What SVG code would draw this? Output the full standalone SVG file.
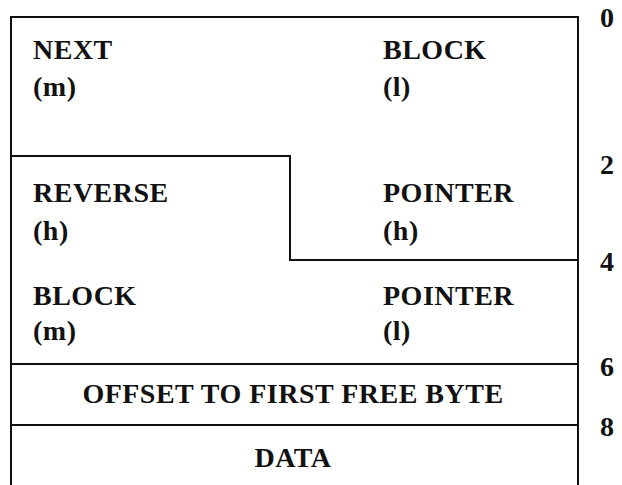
<svg xmlns="http://www.w3.org/2000/svg" width="622" height="485" viewBox="0 0 622 485">
  <style>
    .t { font-family: "Liberation Serif", "Times New Roman", serif; font-weight: bold; font-size: 28px; letter-spacing: 0.5px; fill: #111; }
    .c { text-anchor: middle; }
    .ln { fill: none; stroke: #111; stroke-width: 2; }
  </style>
  <rect width="622" height="485" fill="#fff"/>
  <g id="connectors">
    <!-- outer frame, open at the bottom -->
    <path class="ln" d="M11,485 V17 H578 V485"/>
    <!-- stepped split between the first two words -->
    <path class="ln" d="M11,156 H290 V260 H578"/>
    <line class="ln" x1="11" y1="364" x2="578" y2="364"/>
    <line class="ln" x1="11" y1="425" x2="578" y2="425"/>
  </g>
  <g id="next-block">
    <text class="t" x="33" y="59">NEXT</text>
    <text class="t" x="33" y="96">(m)</text>
    <text class="t" x="383" y="59">BLOCK</text>
    <text class="t" x="383" y="96">(l)</text>
  </g>
  <g id="reverse-pointer">
    <text class="t" x="33" y="202">REVERSE</text>
    <text class="t" x="33" y="240">(h)</text>
    <text class="t" x="383" y="202">POINTER</text>
    <text class="t" x="383" y="240">(h)</text>
  </g>
  <g id="block-pointer">
    <text class="t" x="33" y="305">BLOCK</text>
    <text class="t" x="33" y="340">(m)</text>
    <text class="t" x="383" y="305">POINTER</text>
    <text class="t" x="383" y="340">(l)</text>
  </g>
  <g id="offset">
    <text class="t c" x="293" y="403">OFFSET TO FIRST FREE BYTE</text>
  </g>
  <g id="data">
    <text class="t c" x="293" y="467">DATA</text>
  </g>
  <g id="offsets">
    <text class="t" x="600" y="27">0</text>
    <text class="t" x="600" y="174">2</text>
    <text class="t" x="600" y="271">4</text>
    <text class="t" x="600" y="376">6</text>
    <text class="t" x="600" y="436">8</text>
  </g>
</svg>
